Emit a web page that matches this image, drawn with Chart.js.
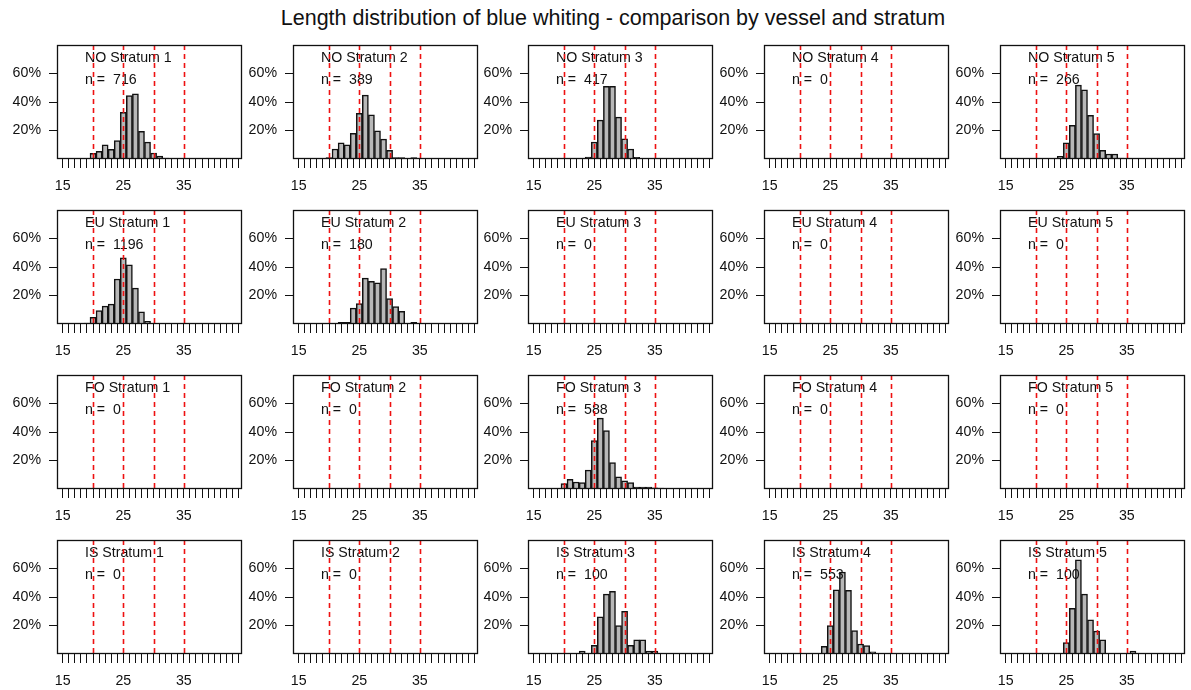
<!DOCTYPE html>
<html>
<head>
<meta charset="utf-8">
<script src="https://cdn.jsdelivr.net/npm/chart.js@4/dist/chart.umd.min.js"></script>
<style>
  body { margin: 0; background: #fff; width: 1191px; height: 690px; position: relative; overflow: hidden; }
  #title {
    position: absolute; left: 613px; top: 6px; transform: translateX(-50%);
    font: 21.5px "Liberation Sans", Arial, sans-serif; line-height: 24px;
    color: #111; white-space: nowrap;
  }
  canvas { position: absolute; }
</style>
</head>
<body>
<div id="title">Length distribution of blue whiting - comparison by vessel and stratum</div>
<script>
// ─── DATA
const vessels = ["NO", "EU", "FO", "IS"];
const strata = [1, 2, 3, 4, 5];
const lengthBins = [18, 19, 20, 21, 22, 23, 24, 25, 26, 27, 28, 29, 30, 31, 32, 33, 34, 35, 36, 37];
const refLines = [20, 25, 30, 35];
const xTickLabels = [15, 25, 35];
const yTickValues = [0.2, 0.4, 0.6];

const nNO = [716, 389, 417, 0, 266];
const nEU = [1196, 180, 0, 0, 0];
const nFO = [0, 0, 588, 0, 0];
const nIS = [0, 0, 100, 553, 100];

// percent per length bin (aligned with lengthBins); empty = no fish
const pctNO1 = [0, 0.5, 4, 5.4, 10, 6.8, 13, 32.7, 44.5, 45.7, 19.5, 11.8, 4.2, 2, 0.7, 0.3, 0, 0, 0, 0];
const pctNO2 = [0, 0.5, 1, 7, 11.3, 10, 18, 32, 44.8, 31, 19.8, 13.9, 6.1, 1, 1, 0, 1, 0, 0, 0];
const pctNO3 = [0, 0, 0, 0, 0.2, 0.5, 1.4, 11.8, 27.3, 51, 51, 29.4, 14.1, 7, 1.2, 0.5, 0.3, 0.3, 0.3, 0];
const pctNO4 = [];
const pctNO5 = [0, 0, 0, 0, 0, 0, 1.9, 11.3, 23.6, 51.8, 48.5, 30.6, 17.9, 6.1, 3.5, 3.5, 0.7, 0, 0.5, 0.5];
const pctEU1 = [0.3, 0.7, 4.7, 9.4, 12.5, 13.9, 31.6, 46.4, 41.5, 25.2, 8.5, 1.9, 0.3, 0.2, 0, 0, 0, 0, 0, 0];
const pctEU2 = [0, 0, 0, 0, 1.1, 1.1, 11.1, 14.4, 32.2, 30, 28.9, 38.9, 17.8, 12.2, 8.9, 0, 1.1, 0, 0, 0];
const pctEU3 = [];
const pctEU4 = [];
const pctEU5 = [];
const pctFO1 = [];
const pctFO2 = [];
const pctFO3 = [0.5, 0.5, 3.8, 6.8, 4.9, 4.5, 13.2, 33.9, 49.7, 41, 18.6, 8.5, 5.7, 4.5, 1.4, 1.4, 1.4, 0.9, 0.7, 0];
const pctFO4 = [];
const pctFO5 = [];
const pctIS1 = [];
const pctIS2 = [];
const pctIS3 = [0, 0, 0, 0, 0, 2, 0, 6, 26, 42, 44, 20, 30, 6, 10, 10, 2, 2, 0, 0];
const pctIS4 = [0, 0, 0, 0, 0.4, 0, 5.4, 20, 45, 57.5, 44.7, 16.5, 7, 5.9, 1.6, 0, 0, 0.4, 0, 0];
const pctIS5 = [0, 0, 0, 0, 0, 0, 0, 8, 32, 66, 42, 24, 16, 10, 0, 0, 0, 0, 2, 0];

const panelPct = {
  NO: [pctNO1, pctNO2, pctNO3, pctNO4, pctNO5],
  EU: [pctEU1, pctEU2, pctEU3, pctEU4, pctEU5],
  FO: [pctFO1, pctFO2, pctFO3, pctFO4, pctFO5],
  IS: [pctIS1, pctIS2, pctIS3, pctIS4, pctIS5],
};
const panelN = { NO: nNO, EU: nEU, FO: nFO, IS: nIS };

// ─── LAYOUT
const boxLeft = [57, 293, 528, 764, 1000];
const boxTop = [45, 210, 375, 540];
const BOX_W = 185, BOX_H = 114;
const Y_AXIS_W = 50, X_AXIS_H = 40, PAD = 4;
const FONT = '"Liberation Sans", Arial, sans-serif';

Chart.defaults.font.family = FONT;
Chart.defaults.color = "#111";

const panelDecor = {
  id: "panelDecor",
  afterDatasetsDraw(chart, args, opts) {
    const { ctx, chartArea: a, scales } = chart;
    ctx.save();
    // labels
    ctx.fillStyle = "#111";
    ctx.font = "14.2px " + FONT;
    ctx.textBaseline = "middle";
    ctx.textAlign = "left";
    ctx.fillText(opts.label, a.left + 28, a.top + 13);
    ctx.fillText("n =  " + opts.n, a.left + 28, a.top + 35);
    // red dashed reference lines
    ctx.strokeStyle = "#ee1111";
    ctx.lineWidth = 1.6;
    ctx.setLineDash([5, 4]);
    refLines.forEach((v) => {
      const x = Math.round(scales.x.getPixelForValue(v)) + 0.5;
      ctx.beginPath();
      ctx.moveTo(x, a.top);
      ctx.lineTo(x, a.bottom);
      ctx.stroke();
    });
    // box
    ctx.setLineDash([]);
    ctx.strokeStyle = "#111";
    ctx.lineWidth = 1.3;
    ctx.strokeRect(a.left + 0.5, a.top + 0.5, a.right - a.left - 1, a.bottom - a.top - 1);
    ctx.restore();
  },
};

vessels.forEach((v, r) => {
  strata.forEach((s, c) => {
    const cv = document.createElement("canvas");
    const W = Y_AXIS_W + BOX_W + PAD, H = PAD + BOX_H + X_AXIS_H;
    cv.width = W;
    cv.height = H;
    cv.style.left = boxLeft[c] - Y_AXIS_W + "px";
    cv.style.top = boxTop[r] - PAD + "px";
    document.body.appendChild(cv);

    const pct = panelPct[v][c];
    const data = pct.map((p, i) => ({ x: lengthBins[i], y: p / 100 }));

    new Chart(cv.getContext("2d"), {
      type: "bar",
      data: {
        datasets: [
          {
            data,
            backgroundColor: "#b8b8b8",
            borderColor: "#111",
            borderWidth: 1.5,
            borderSkipped: "start",
            barPercentage: 1,
            categoryPercentage: 1,
          },
        ],
      },
      options: {
        responsive: false,
        animation: false,
        events: [],
        layout: { padding: { top: PAD, right: PAD, left: 0, bottom: 0 } },
        plugins: {
          legend: { display: false },
          tooltip: { enabled: false },
          panelDecor: { label: v + " Stratum " + s, n: panelN[v][c] },
        },
        scales: {
          x: {
            type: "linear",
            min: 14.05,
            max: 44.6,
            offset: false,
            border: { display: false },
            grid: {
              offset: false,
              drawOnChartArea: false,
              drawTicks: true,
              tickLength: 9,
              color: "#111",
              lineWidth: 1,
            },
            afterBuildTicks: (ax) => {
              const t = [];
              for (let k = 15; k <= 44; k++) t.push({ value: k });
              ax.ticks = t;
            },
            afterFit: (ax) => {
              ax.height = X_AXIS_H;
              ax.paddingLeft = 0;
              ax.paddingRight = 0;
            },
            ticks: {
              autoSkip: false,
              maxRotation: 0,
              minRotation: 0,
              padding: 10,
              font: { size: 14.2 },
              color: "#111",
              callback: (val) => (xTickLabels.includes(val) ? String(val) : ""),
            },
          },
          y: {
            type: "linear",
            min: 0,
            max: 0.8,
            border: { display: false },
            grid: {
              drawOnChartArea: false,
              drawTicks: true,
              tickLength: 8,
              color: "#111",
              lineWidth: 1,
            },
            afterBuildTicks: (ax) => {
              ax.ticks = yTickValues.map((value) => ({ value }));
            },
            afterFit: (ax) => {
              ax.width = Y_AXIS_W;
              ax.paddingTop = 0;
              ax.paddingBottom = 0;
            },
            ticks: {
              padding: 8,
              font: { size: 14.2 },
              color: "#111",
              callback: (val) => Math.round(val * 100) + "%",
            },
          },
        },
      },
      plugins: [panelDecor],
    });
  });
});
</script>
</body>
</html>
